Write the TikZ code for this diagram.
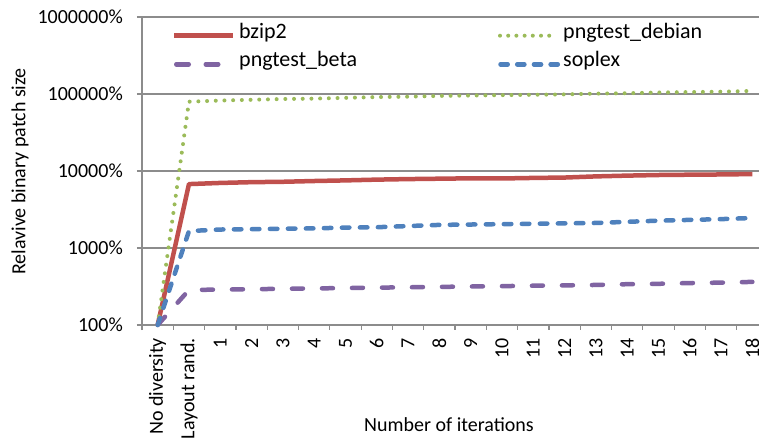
\documentclass[tikz,border=0pt]{standalone}
\usepackage{fontspec}
\setmainfont{Carlito}
\definecolor{axisgray}{HTML}{8C8C8C}
\definecolor{sred}{HTML}{C0504D}
\definecolor{sgreen}{HTML}{9BBB59}
\definecolor{spurple}{HTML}{8064A2}
\definecolor{sblue}{HTML}{4F81BD}
\tikzset{
  gridline/.style={draw=axisgray, line width=1.2pt},
  ticklabel/.style={font=\fontsize{20}{24}\selectfont, inner sep=0pt},
  legendlabel/.style={font=\fontsize{22}{26}\selectfont, inner sep=0pt, anchor=mid west},
  bzline/.style={draw=sred, line width=4.5pt, line join=round},
  betaline/.style={draw=spurple, line width=4.5pt, line cap=round, line join=round, dash pattern=on 11pt off 19pt},
  debline/.style={draw=sgreen, line width=4pt, line cap=round, line join=round, dash pattern=on 0pt off 8.7pt},
  soline/.style={draw=sblue, line width=4.5pt, line cap=round, line join=round, dash pattern=on 7.5pt off 10.5pt},
}
\begin{document}
\begin{tikzpicture}[x=1pt, y=1pt]
\useasboundingbox (0,0) rectangle (759,440);

% plot area: one category = 31.3pt, one decade = 77pt
\begin{scope}[shift={(142pt,115pt)}, x=31.3pt, y=77pt]
  % horizontal gridlines and value ticks
  \foreach \d/\lab in {0/100\%, 1/1000\%, 2/10000\%, 3/100000\%, 4/1000000\%} {
    \draw[gridline] (-0.16,\d) -- (19.71,\d);
    \node[ticklabel, anchor=east] (ylab\d) at (-0.607,\d) {\lab};
  }
  % vertical axis
  \draw[gridline] (0,-0.065) -- (0,4);
  % category ticks
  \foreach \k in {1,...,19} {
    \draw[gridline] (\k,0) -- (\k,-0.065);
  }
  % category labels
  \node[ticklabel, rotate=90, anchor=east] (xlab0) at (0.5,-0.169) {No diversity};
  \node[ticklabel, rotate=90, anchor=east] (xlab1) at (1.5,-0.169) {Layout rand.};
  \foreach \n in {1,...,18} {
    \node[ticklabel, rotate=90, anchor=east] (xlabn\n) at (\n+1.5,-0.169) {\n};
  }

  % data series
  \draw[bzline] plot coordinates {(0.5,0) (1.5,1.83) (2.5,1.845) (3.5,1.855) (4.5,1.86) (5.5,1.87) (6.5,1.878) (7.5,1.888) (8.5,1.895) (9.5,1.90) (10.5,1.905) (11.5,1.903) (12.5,1.91) (13.5,1.915) (14.5,1.93) (15.5,1.94) (16.5,1.948) (17.5,1.952) (18.5,1.955) (19.5,1.96)};
  \draw[betaline] plot coordinates {(0.5,0) (1.5,0.455) (2.5,0.46) (3.5,0.465) (4.5,0.47) (5.5,0.475) (6.5,0.48) (7.5,0.485) (8.5,0.49) (9.5,0.495) (10.5,0.50) (11.5,0.505) (12.5,0.51) (13.5,0.515) (14.5,0.52) (15.5,0.53) (16.5,0.535) (17.5,0.545) (18.5,0.55) (19.5,0.56)};
  \draw[debline] plot coordinates {(0.5,0) (1.5,2.90) (2.5,2.915) (3.5,2.925) (4.5,2.935) (5.5,2.94) (6.5,2.95) (7.5,2.96) (8.5,2.965) (9.5,2.975) (10.5,2.98) (11.5,2.985) (12.5,2.99) (13.5,2.995) (14.5,3.005) (15.5,3.01) (16.5,3.02) (17.5,3.025) (18.5,3.03) (19.5,3.04)};
  \draw[soline] plot coordinates {(0.5,0) (1.5,1.22) (2.5,1.24) (3.5,1.245) (4.5,1.25) (5.5,1.255) (6.5,1.265) (7.5,1.27) (8.5,1.285) (9.5,1.30) (10.5,1.305) (11.5,1.31) (12.5,1.315) (13.5,1.32) (14.5,1.325) (15.5,1.34) (16.5,1.355) (17.5,1.365) (18.5,1.375) (19.5,1.39)};
\end{scope}

% axis titles
\node[ticklabel] (xtitle) at (449,15) {Number of iterations};
\node[ticklabel, rotate=90] (ytitle) at (20,268.5) {Relavive binary patch size};

% legend
\coordinate (lg1a) at (174,404.3);   \coordinate (lg1b) at (233,404.3);
\coordinate (lg2a) at (176.25,375.7); \coordinate (lg2b) at (218.5,375.7);
\coordinate (lg3a) at (500,404.3);   \coordinate (lg3b) at (549.5,404.3);
\coordinate (lg4a) at (500.5,375.7); \coordinate (lg4b) at (558,375.7);
\draw[bzline] (lg1a) -- (lg1b);
\draw[betaline, dash pattern=on 12.5pt off 17pt] (lg2a) -- (lg2b);
\draw[debline, dash pattern=on 0pt off 8.2pt] (lg3a) -- (lg3b);
\draw[soline, dash pattern=on 7.2pt off 9.5pt] (lg4a) -- (lg4b);
\node[legendlabel] (lgt1) at (239,404.3) {bzip2};
\node[legendlabel] (lgt2) at (239,375.7) {pngtest\_beta};
\node[legendlabel] (lgt3) at (563,404.3) {pngtest\_debian};
\node[legendlabel] (lgt4) at (563,375.7) {soplex};
\end{tikzpicture}
\end{document}
